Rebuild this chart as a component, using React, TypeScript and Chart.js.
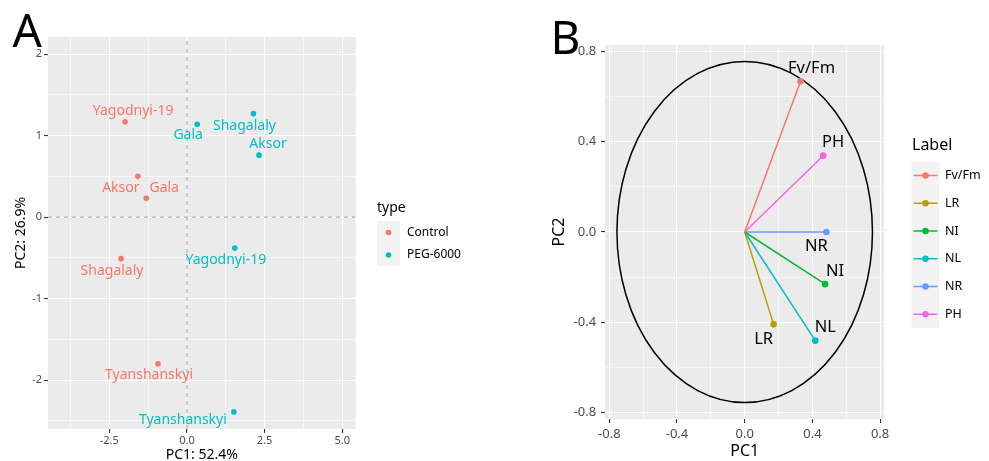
import React, { useEffect, useRef } from "react";
import { Chart, registerables } from "chart.js";
Chart.register(...registerables);

const FONT = "'Noto Sans', 'DejaVu Sans', sans-serif";

// ---------- Panel A: PCA scores ----------
const controlCultivars = ["Yagodnyi-19", "Aksor", "Gala", "Shagalaly", "Tyanshanskyi"];
const controlPC1 = [-1.99, -1.58, -1.31, -2.12, -0.93];
const controlPC2 = [1.17, 0.5, 0.23, -0.51, -1.8];
const pegCultivars = ["Gala", "Shagalaly", "Aksor", "Yagodnyi-19", "Tyanshanskyi"];
const pegPC1 = [0.33, 2.14, 2.32, 1.54, 1.51];
const pegPC2 = [1.14, 1.27, 0.76, -0.38, -2.39];
const typeNames = ["Control", "PEG-6000"];
const scoreXMajor = [-2.5, 0, 2.5, 5];
const scoreXMinor = [-3.75, -1.25, 1.25, 3.75];
const scoreYMajor = [-2, -1, 0, 1, 2];
const scoreYMinor = [-2.5, -1.5, -0.5, 0.5, 1.5];
const scoreXRange = [-4.47, 5.43];
const scoreYRange = [-2.6, 2.21];
const scoreAxisTitles = ["PC1: 52.4%", "PC2: 26.9%"];

// ---------- Panel B: variable loadings ----------
const variables = ["Fv/Fm", "LR", "NI", "NL", "NR", "PH"];
const loadingPC1 = [0.33, 0.171, 0.475, 0.417, 0.483, 0.464];
const loadingPC2 = [0.667, -0.409, -0.231, -0.481, 0, 0.338];
const loadMajor = [-0.8, -0.4, 0, 0.4, 0.8];
const loadMinor = [-0.6, -0.2, 0.2, 0.6];
const loadXRange = [-0.825, 0.825];
const loadYRange = [-0.828, 0.828];
const circleRadius = 0.755;
const loadAxisTitles = ["PC1", "PC2"];

// ---------- styles ----------
const typeColors = ["#F8766D", "#00BFC4"];
const varColors = ["#F8766D", "#B79F00", "#00BA38", "#00BFC4", "#619CFF", "#F564E3"];
const controlNudge = [[8, -11], [-17, 12], [18, -10], [-9, 12], [-9, 11]];
const pegNudge = [[-9, 11], [-9, 12], [9, -11], [-9, 12], [-51, 8]];
const loadNudge = [[11, -13], [-10, 15], [10, -13], [10, -13], [-10, 14], [10, -13]];

function makeScale(
  range: number[], major: number[], minor: number[], fmt: (v: number) => string,
  fontSize: number, tl: number, pad: number, fitSize: number, horizontal: boolean
): any {
  const isMajor = (v: number) => major.some((m) => Math.abs(m - v) < 1e-9);
  return {
    type: "linear",
    min: range[0],
    max: range[1],
    bounds: "data",
    afterBuildTicks: (scale: any) => {
      scale.ticks = [...minor, ...major].sort((a, b) => a - b).map((v) => ({ value: v }));
    },
    afterFit: (scale: any) => {
      if (horizontal) scale.height = fitSize;
      else scale.width = fitSize;
    },
    grid: {
      color: "#FFFFFF",
      lineWidth: (c: any) => (c.tick && isMajor(c.tick.value) ? 1.1 : 0.55),
      drawTicks: true,
      tickLength: tl,
      tickColor: (c: any) => (c.tick && isMajor(c.tick.value) ? "#333333" : "rgba(0,0,0,0)"),
      tickWidth: 1.1,
    },
    border: { display: false },
    ticks: {
      autoSkip: false,
      maxRotation: 0,
      minRotation: 0,
      padding: pad,
      color: "#4D4D4D",
      font: { family: FONT, size: fontSize },
      callback: (v: any) => (isMajor(Number(v)) ? fmt(Number(v)) : ""),
    },
  };
}

function fillPanel(chart: any) {
  const { ctx, chartArea: a } = chart;
  ctx.save();
  ctx.fillStyle = "#EBEBEB";
  ctx.fillRect(a.left, a.top, a.right - a.left, a.bottom - a.top);
  ctx.restore();
}

function dot(ctx: CanvasRenderingContext2D, x: number, y: number, r: number, color: string) {
  ctx.beginPath();
  ctx.arc(x, y, r, 0, Math.PI * 2);
  ctx.fillStyle = color;
  ctx.fill();
}

function configA(): any {
  const pts = (xs: number[], ys: number[]) => xs.map((x, i) => ({ x, y: ys[i] }));
  const labelsPlugin = {
    id: "panelA",
    beforeDraw: (chart: any) => fillPanel(chart),
    afterDatasetsDraw: (chart: any) => {
      const { ctx } = chart;
      const xs = chart.scales.x;
      const ys = chart.scales.y;
      ctx.save();
      ctx.font = `14px ${FONT}`;
      ctx.textAlign = "center";
      ctx.textBaseline = "middle";
      const groups = [
        [controlCultivars, controlPC1, controlPC2, controlNudge, typeColors[0]],
        [pegCultivars, pegPC1, pegPC2, pegNudge, typeColors[1]],
      ] as any[];
      groups.forEach(([names, px, py, nudge, color]) => {
        ctx.fillStyle = color;
        names.forEach((n: string, i: number) => {
          const x = xs.getPixelForValue(px[i]) + nudge[i][0];
          const y = ys.getPixelForValue(py[i]) + nudge[i][1];
          ctx.fillText(n, x, y);
        });
      });
      ctx.restore();
    },
    afterDraw: (chart: any) => {
      const { ctx, chartArea: a } = chart;
      ctx.save();
      ctx.fillStyle = "#000000";
      // axis titles
      ctx.font = `14px ${FONT}`;
      ctx.textAlign = "center";
      ctx.textBaseline = "middle";
      ctx.fillText(scoreAxisTitles[0], (a.left + a.right) / 2, 455);
      ctx.save();
      ctx.translate(21.5, (a.top + a.bottom) / 2);
      ctx.rotate(-Math.PI / 2);
      ctx.fillText(scoreAxisTitles[1], 0, 0);
      ctx.restore();
      // panel tag
      ctx.font = `46px ${FONT}`;
      ctx.textAlign = "left";
      ctx.textBaseline = "alphabetic";
      ctx.fillText("A", 12.5, 46.5);
      // legend
      ctx.font = `14px ${FONT}`;
      ctx.textBaseline = "middle";
      ctx.fillText("type", 377, 208);
      ctx.fillStyle = "#F2F2F2";
      ctx.fillRect(377, 221, 23, 45);
      ctx.font = `12px ${FONT}`;
      typeNames.forEach((n, i) => {
        const y = 232.5 + i * 22.5;
        dot(ctx, 388.5, y, 2.8, typeColors[i]);
        ctx.fillStyle = "#000000";
        ctx.fillText(n, 407, y);
      });
      ctx.restore();
    },
  };
  return {
    type: "scatter",
    data: {
      datasets: [
        {
          data: pts(controlPC1, controlPC2),
          backgroundColor: typeColors[0],
          pointRadius: 2.8,
          pointBorderWidth: 0,
        },
        {
          data: pts(pegPC1, pegPC2),
          backgroundColor: typeColors[1],
          pointRadius: 2.8,
          pointBorderWidth: 0,
        },
        {
          data: [{ x: scoreXRange[0], y: 0 }, { x: scoreXRange[1], y: 0 }],
          showLine: true,
          borderColor: "#A8A8A8",
          borderWidth: 1.1,
          borderDash: [4, 4],
          pointRadius: 0,
        },
        {
          data: [{ x: 0, y: scoreYRange[0] }, { x: 0, y: scoreYRange[1] }],
          showLine: true,
          borderColor: "#A8A8A8",
          borderWidth: 1.1,
          borderDash: [4, 4],
          pointRadius: 0,
        },
      ],
    },
    options: {
      responsive: false,
      animation: false,
      events: [],
      layout: { padding: { left: 0, top: 37, right: 500 - 355.7, bottom: 0 } },
      plugins: { legend: { display: false }, tooltip: { enabled: false } },
      scales: {
        x: makeScale(scoreXRange, scoreXMajor, scoreXMinor, (v) => v.toFixed(1), 11, 4, 1, 461 - 429, true),
        y: makeScale(scoreYRange, scoreYMajor, scoreYMinor, (v) => String(v), 11, 4, 2, 48, false),
      },
    },
    plugins: [labelsPlugin],
  };
}

function configB(): any {
  const plugin = {
    id: "panelB",
    beforeDraw: (chart: any) => fillPanel(chart),
    beforeDatasetsDraw: (chart: any) => {
      const { ctx } = chart;
      const xs = chart.scales.x;
      const ys = chart.scales.y;
      const cx = xs.getPixelForValue(0);
      const cy = ys.getPixelForValue(0);
      const rx = xs.getPixelForValue(circleRadius) - cx;
      const ry = cy - ys.getPixelForValue(circleRadius);
      ctx.save();
      ctx.beginPath();
      ctx.ellipse(cx, cy, rx, ry, 0, 0, Math.PI * 2);
      ctx.strokeStyle = "#000000";
      ctx.lineWidth = 1.5;
      ctx.stroke();
      ctx.restore();
    },
    afterDatasetsDraw: (chart: any) => {
      const { ctx } = chart;
      const xs = chart.scales.x;
      const ys = chart.scales.y;
      ctx.save();
      ctx.font = `16.5px ${FONT}`;
      ctx.textAlign = "center";
      ctx.textBaseline = "middle";
      ctx.fillStyle = "#000000";
      variables.forEach((n, i) => {
        ctx.fillText(
          n,
          xs.getPixelForValue(loadingPC1[i]) + loadNudge[i][0],
          ys.getPixelForValue(loadingPC2[i]) + loadNudge[i][1]
        );
      });
      ctx.restore();
    },
    afterDraw: (chart: any) => {
      const { ctx, chartArea: a } = chart;
      ctx.save();
      ctx.fillStyle = "#000000";
      ctx.font = `16px ${FONT}`;
      ctx.textAlign = "center";
      ctx.textBaseline = "middle";
      ctx.fillText(loadAxisTitles[0], (a.left + a.right) / 2, 451.7);
      ctx.save();
      ctx.translate(59, (a.top + a.bottom) / 2);
      ctx.rotate(-Math.PI / 2);
      ctx.fillText(loadAxisTitles[1], 0, 0);
      ctx.restore();
      ctx.font = `46px ${FONT}`;
      ctx.textAlign = "left";
      ctx.textBaseline = "alphabetic";
      ctx.fillText("B", 50.5, 54);
      // legend
      ctx.font = `16px ${FONT}`;
      ctx.textBaseline = "middle";
      ctx.fillText("Label", 412, 145);
      ctx.fillStyle = "#F2F2F2";
      ctx.fillRect(411.7, 161.7, 27.6, 166.3);
      ctx.font = `12.5px ${FONT}`;
      variables.forEach((n, i) => {
        const y = 175.5 + i * 27.75;
        ctx.beginPath();
        ctx.moveTo(413.5, y);
        ctx.lineTo(437.5, y);
        ctx.strokeStyle = varColors[i];
        ctx.lineWidth = 1.5;
        ctx.stroke();
        dot(ctx, 425.5, y, 3.2, varColors[i]);
        ctx.fillStyle = "#000000";
        ctx.fillText(n, 445, y);
      });
      ctx.restore();
    },
  };
  return {
    type: "scatter",
    data: {
      datasets: variables.map((v, i) => ({
        label: v,
        data: [{ x: 0, y: 0 }, { x: loadingPC1[i], y: loadingPC2[i] }],
        showLine: true,
        borderColor: varColors[i],
        borderWidth: 1.5,
        backgroundColor: varColors[i],
        pointRadius: [0, 3.3],
        pointBorderWidth: 0,
      })),
    },
    options: {
      responsive: false,
      animation: false,
      events: [],
      layout: { padding: { left: 0, top: 45, right: 489 - 384.3, bottom: 0 } },
      plugins: { legend: { display: false }, tooltip: { enabled: false } },
      scales: {
        x: makeScale(loadXRange, loadMajor, loadMinor, (v) => v.toFixed(1), 13, 4, 3, 461 - 419, true),
        y: makeScale(loadYRange, loadMajor, loadMinor, (v) => v.toFixed(1), 13, 4, 5, 105.1, false),
      },
    },
    plugins: [plugin],
  };
}

export default function App() {
  const refA = useRef<HTMLCanvasElement>(null);
  const refB = useRef<HTMLCanvasElement>(null);
  useEffect(() => {
    const a = new Chart(refA.current as HTMLCanvasElement, configA());
    const b = new Chart(refB.current as HTMLCanvasElement, configB());
    return () => {
      a.destroy();
      b.destroy();
    };
  }, []);
  return (
    <div style={{ position: "absolute", left: 0, top: 0, width: 989, height: 461, background: "#FFFFFF" }}>
      <canvas ref={refA} width={500} height={461} style={{ position: "absolute", left: 0, top: 0 }} />
      <canvas ref={refB} width={489} height={461} style={{ position: "absolute", left: 500, top: 0 }} />
    </div>
  );
}
